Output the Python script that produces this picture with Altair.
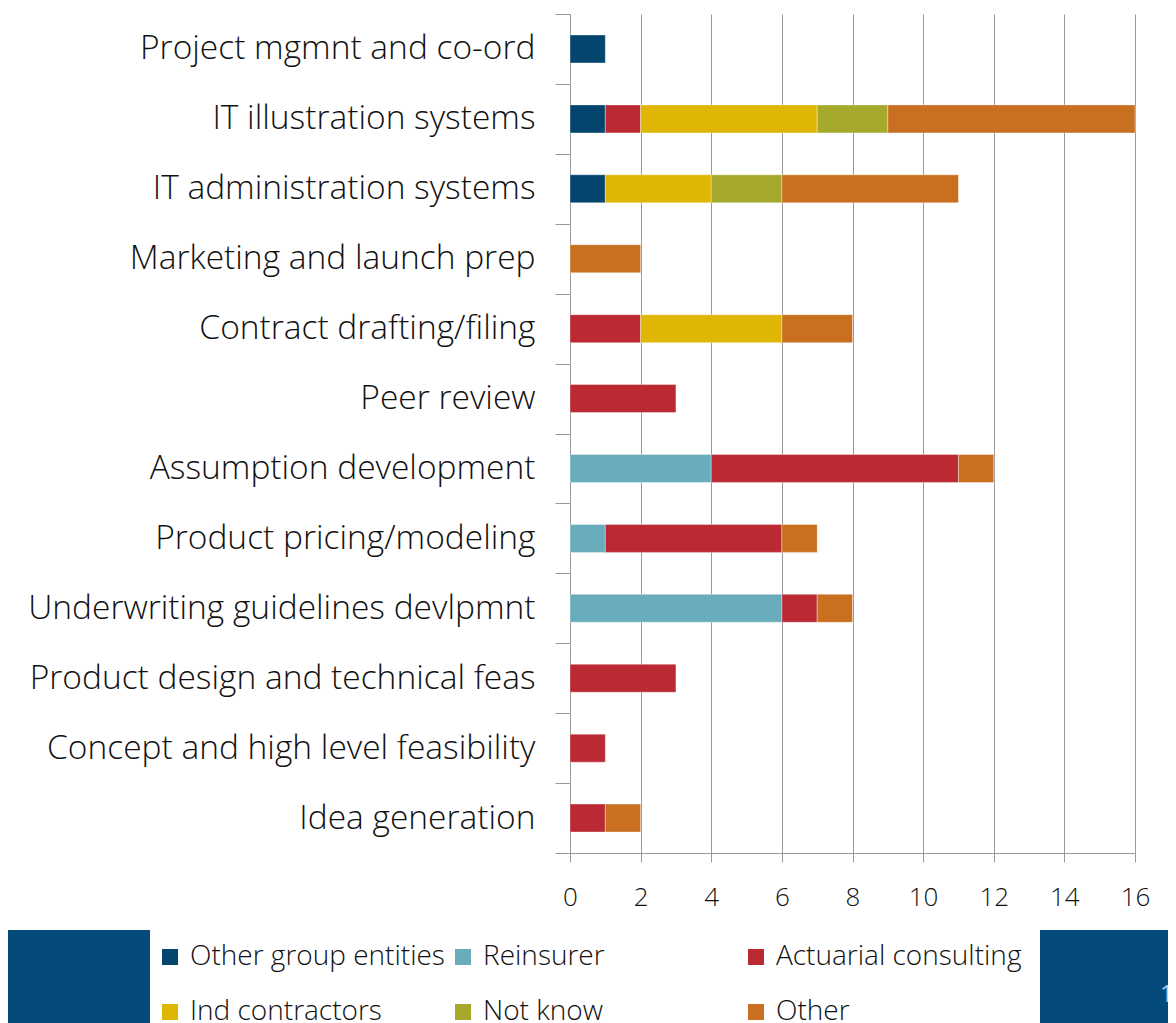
import altair as alt
import pandas as pd

categories = [
    "Project mgmnt and co-ord",
    "IT illustration systems",
    "IT administration systems",
    "Marketing and launch prep",
    "Contract drafting/filing",
    "Peer review",
    "Assumption development",
    "Product pricing/modeling",
    "Underwriting guidelines devlpmnt",
    "Product design and technical feas",
    "Concept and high level feasibility",
    "Idea generation",
]
series = ["Other group entities", "Reinsurer", "Actuarial consulting",
          "Ind contractors", "Not know", "Other"]
colors = ["#04456E", "#69ADBD", "#BB2A33", "#DFB604", "#A5AA2D", "#C97020"]

other_group = [1, 1, 1, 0, 0, 0, 0, 0, 0, 0, 0, 0]
reinsurer   = [0, 0, 0, 0, 0, 0, 4, 1, 6, 0, 0, 0]
actuarial   = [0, 1, 0, 0, 2, 3, 7, 5, 1, 3, 1, 1]
ind_contr   = [0, 5, 3, 0, 4, 0, 0, 0, 0, 0, 0, 0]
not_know    = [0, 2, 2, 0, 0, 0, 0, 0, 0, 0, 0, 0]
other       = [0, 7, 5, 2, 2, 0, 1, 1, 1, 0, 0, 1]

values = [other_group, reinsurer, actuarial, ind_contr, not_know, other]
rows = []
for s_i, (s, vals) in enumerate(zip(series, values)):
    for c, v in zip(categories, vals):
        if v > 0:
            rows.append({"category": c, "series": s, "value": v, "order": s_i})
df = pd.DataFrame(rows)

FONT = "Open Sans"
WEIGHT = 300

bars = alt.Chart(df).mark_bar(size=28, stroke="#ffffff", strokeWidth=0.6, strokeOpacity=0.6).encode(
    y=alt.Y("category:N", sort=categories,
            scale=alt.Scale(paddingInner=0, paddingOuter=0),
            axis=alt.Axis(title=None, tickBand="extent", tickSize=15, tickColor="#999999",
                          domainColor="#999999", labelFontSize=33.5, labelFont=FONT,
                          labelFontWeight=WEIGHT,
                          labelColor="#111111", labelPadding=20, labelLimit=600,
                          grid=False)),
    x=alt.X("value:Q", stack="zero",
            scale=alt.Scale(domain=[0, 16], nice=False),
            axis=alt.Axis(title=None, values=list(range(0, 17, 2)), tickSize=9,
                          tickColor="#999999", domainColor="#999999", gridColor="#999999",
                          gridOpacity=1, labelFontSize=26, labelFont=FONT,
                          labelFontWeight=WEIGHT, labelFlush=False,
                          labelColor="#111111", labelPadding=22)),
    color=alt.Color("series:N", sort=series,
                    scale=alt.Scale(domain=series, range=colors),
                    legend=alt.Legend(title=None, orient="none", legendX=-414, legendY=929,
                                      direction="horizontal",
                                      columns=3, gridAlign="all", symbolType="square",
                                      symbolSize=256, symbolStrokeWidth=0,
                                      labelFontSize=28, labelFont=FONT, labelColor="#111111",
                                      labelFontWeight=WEIGHT,
                                      labelOffset=6, columnPadding=4, rowPadding=27,
                                      labelLimit=400)),
    order=alt.Order("order:Q"),
)

# slide decoration blocks (not data)
deco_df = pd.DataFrame({"k": [0]})
left_block = alt.Chart(deco_df).mark_rect(color="#044B7B").encode(
    x=alt.value(-570), x2=alt.value(-420), y=alt.value(916), y2=alt.value(1020))
right_block = alt.Chart(deco_df).mark_rect(color="#044B7B").encode(
    x=alt.value(470), x2=alt.value(620), y=alt.value(916), y2=alt.value(1020))
page_no = alt.Chart(deco_df).mark_text(text="1", align="left", baseline="middle",
                                       fontSize=24, font=FONT, color="#B8CCE0").encode(
    x=alt.value(590), y=alt.value(981))

chart = alt.layer(bars, left_block, right_block, page_no).properties(
    width=565, height=839,
    autosize=alt.AutoSizeParams(type="none"),
    padding={"left": 562, "top": 6, "right": 33, "bottom": 170},
).configure_view(stroke=None)

chart.save("out.html", embed_options={"renderer": "svg", "actions": False})
